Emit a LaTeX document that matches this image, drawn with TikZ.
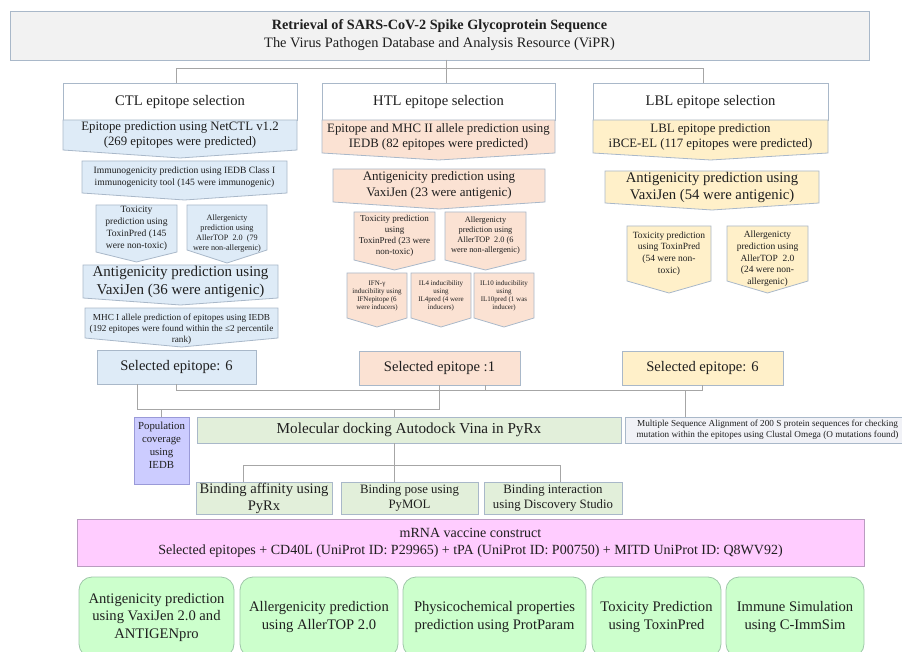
\documentclass[tikz,border=0pt]{standalone}
\usepackage{fontspec}
\setmainfont{Liberation Serif}
\definecolor{textc}{HTML}{1F1F1F}
\definecolor{bordc}{HTML}{A9B8C9}
\definecolor{linec}{HTML}{A6A6A6}
\definecolor{topfill}{HTML}{F2F2F2}
\definecolor{ctlfill}{HTML}{DEEBF7}
\definecolor{htlfill}{HTML}{FBE2D3}
\definecolor{lblfill}{HTML}{FFF0C9}
\definecolor{dockfill}{HTML}{E2EFDA}
\definecolor{popfill}{HTML}{CCCCFF}
\definecolor{popbord}{HTML}{9A9AD8}
\definecolor{msafill}{HTML}{F1F2F7}
\definecolor{mrnafill}{HTML}{FFCCFF}
\definecolor{mrnabord}{HTML}{B99CC0}
\definecolor{evalfill}{HTML}{CCFFCC}
\definecolor{evalbord}{HTML}{9FC7A9}
\tikzset{
  cell/.style={rectangle, draw=bordc, line width=0.8pt, inner sep=0pt, outer sep=0pt, align=center, text=textc},
  txt/.style={inner sep=0pt, align=center, text=textc},
  fs/.style 2 args={font=\fontsize{#1}{#2}\selectfont},
  sz/.style 2 args={minimum width=#1, minimum height=#2},
  conn/.style={draw=linec, line width=1pt},
  ctlc/.style={fill=ctlfill, draw=bordc, line width=0.8pt},
  htlc/.style={fill=htlfill, draw=bordc, line width=0.8pt},
  lblc/.style={fill=lblfill, draw=bordc, line width=0.8pt}
}
% style, name, x1, y1, x2, y2 (rectangle part), tip, text options, text
\newcommand\chev[9]{%
  \path[#1] (#3,#4) -- (#5,#4) -- (#5,#6) -- ({(#3+#5)/2},#7) -- (#3,#6) -- cycle;
  \node[txt,#8] (#2) at ({(#3+#5)/2},{(#4+#6)/2}) {#9};}
\begin{document}
\begin{tikzpicture}[x=1pt, y=-1pt]
\useasboundingbox (0,0) rectangle (902,652);
\clip (0,0) rectangle (902,652);
\node[cell, fill=topfill, sz={859}{49}, fs={14.4}{18}] (top) at (439.5,35.5)
  {\textbf{\fontsize{14.2}{18}\selectfont Retrieval of SARS-CoV-2 Spike Glycoprotein Sequence}\\The Virus Pathogen Database and Analysis Resource (ViPR)};
\node[cell, fill=white, sz={234}{37}, fs={14.6}{17}] (ctlh) at (180,101.5) {CTL epitope selection};
\node[cell, fill=white, sz={233}{37}, fs={14.6}{17}] (htlh) at (438.5,101.5) {HTL epitope selection};
\node[cell, fill=white, sz={235}{37}, fs={14.6}{17}] (lblh) at (710.5,101.5) {LBL epitope selection};

\chev{ctlc}{netctl}{63}{120}{297}{150}{158}{fs={12.8}{15}}{Epitope prediction using NetCTL v1.2\\(269 epitopes were predicted)}
\chev{ctlc}{immuno}{82}{161}{287}{193}{200}{fs={9.6}{11.7}}{Immunogenicity prediction using IEDB Class I\\immunogenicity tool (145 were immunogenic)}
\chev{ctlc}{ctltox}{96}{205}{177}{252}{262}{fs={9.6}{11.8}}{Toxicity\\prediction using\\ToxinPred (145\\were non-toxic)}
\chev{ctlc}{ctlall}{187}{205}{267}{250}{263}{fs={8.2}{9.8},yshift=-6pt}{Allergenicty\\prediction using\\AllerTOP\ \ 2.0\ \ (79\\were non-allergenic)}
\chev{ctlc}{ctlanti}{83}{265}{278}{298}{305}{fs={15}{18}}{Antigenicity prediction using\\VaxiJen (36 were antigenic)}
\chev{ctlc}{mhci}{85}{308}{278}{338}{347}{fs={9.2}{11},yshift=-6pt}{MHC I allele prediction of epitopes using IEDB\\(192 epitopes were found within the ≤2 percentile\\rank)}

\chev{htlc}{mhcii}{322}{120}{555}{153}{160}{fs={12.8}{15}}{Epitope and MHC II allele prediction using\\IEDB (82 epitopes were predicted)}
\chev{htlc}{htlanti}{333}{169}{545}{202}{209}{fs={13}{15.5}}{Antigenicity prediction using\\VaxiJen (23 were antigenic)}
\chev{htlc}{htltox}{354}{212}{435}{260}{270}{fs={9}{11}}{Toxicity prediction\\using\\ToxinPred (23 were\\non-toxic)}
\chev{htlc}{htlall}{445}{212}{526}{260}{270}{fs={8.3}{10}}{Allergenicty\\prediction using\\AllerTOP\ \ 2.0 (6\\were non-allergenic)}
\chev{htlc}{ifn}{347}{273}{407}{318}{327}{fs={7}{8}}{IFN-γ\\inducibility using\\IFNepitope (6\\were inducers)}
\chev{htlc}{ilfour}{411}{273}{471}{318}{327}{fs={7}{8}}{IL4 inducibility\\using\\IL4pred (4 were\\inducers)}
\chev{htlc}{ilten}{474}{273}{534}{318}{327}{fs={7}{8}}{IL10 inducibility\\using\\IL10pred (1 was\\inducer)}

\chev{lblc}{lblpred}{593}{120}{828}{153}{160}{fs={12.8}{15}}{LBL epitope prediction\\iBCE-EL (117 epitopes were predicted)}
\chev{lblc}{lblanti}{605}{171}{819}{203}{210}{fs={14.7}{17}}{Antigenicity prediction using\\VaxiJen (54 were antigenic)}
\chev{lblc}{lbltox}{627}{226}{711}{281}{293}{fs={9.5}{11.7}}{Toxicity prediction\\using ToxinPred\\(54 were non-\\toxic)}
\chev{lblc}{lblall}{727}{226}{808}{281}{293}{fs={9.5}{11.7},yshift=-5.5pt}{Allergenicty\\prediction using\\AllerTOP\ \ 2.0\\(24 were non-\\allergenic)}

\node[cell, fill=ctlfill, sz={159}{34}, fs={14.6}{17}] (ctlsel) at (176.5,367) {Selected epitope: 6};
\node[cell, fill=htlfill, sz={161}{34}, fs={14.6}{17}] (htlsel) at (439.5,368) {Selected epitope :1};
\node[cell, fill=lblfill, sz={161}{34}, fs={14.6}{17}] (lblsel) at (702.5,368) {Selected epitope: 6};

\node[cell, fill=popfill, draw=popbord, sz={55}{67}] (pop) at (161.5,450.5) {};
\node[txt, fs={10.8}{13}] (poptxt) at (161.5,445) {Population\\coverage\\using\\IEDB};
\node[cell, fill=dockfill, sz={424}{26}, fs={15.2}{18}] (mol) at (409,430) {Molecular docking Autodock Vina in PyRx};
\node[cell, fill=msafill, sz={285}{26}, fs={9.2}{10.5}] (msa) at (767.5,430) {Multiple Sequence Alignment of 200 S protein sequences for checking\\mutation within the epitopes using Clustal Omega (O mutations found)};
\node[cell, fill=dockfill, sz={136}{32}, fs={14.6}{17}] (bind1) at (264,498) {Binding affinity using\\PyRx};
\node[cell, fill=dockfill, sz={137}{32}, fs={12.8}{15}] (bind2) at (409.5,498) {Binding pose using\\PyMOL};
\node[cell, fill=dockfill, sz={138}{32}, fs={12.8}{15}] (bind3) at (553,498) {Binding interaction\\using Discovery Studio};
\node[cell, fill=mrnafill, draw=mrnabord, sz={787}{47}, fs={14}{17}] (mrna) at (470.5,542.5)
  {mRNA vaccine construct\\Selected epitopes + CD40L (UniProt ID: P29965) + tPA (UniProt ID: P00750) + MITD UniProt ID: Q8WV92)};

\node[cell, rounded corners=13pt, fill=evalfill, draw=evalbord, sz={155}{80}, fs={14.6}{17.5}] (antig) at (156.5,617) {Antigenicity prediction\\using VaxiJen 2.0 and\\ANTIGENpro};
\node[cell, rounded corners=13pt, fill=evalfill, draw=evalbord, sz={158}{80}, fs={14.6}{17.5}] (allerg) at (319,617) {Allergenicity prediction\\using AllerTOP 2.0};
\node[cell, rounded corners=13pt, fill=evalfill, draw=evalbord, sz={183}{80}, fs={14.6}{17.5}] (physchem) at (494.5,617) {Physicochemical properties\\prediction using ProtParam};
\node[cell, rounded corners=13pt, fill=evalfill, draw=evalbord, sz={129}{80}, fs={14.6}{17.5}] (toxic) at (656.5,617) {Toxicity Prediction\\using ToxinPred};
\node[cell, rounded corners=13pt, fill=evalfill, draw=evalbord, sz={138}{80}, fs={14.6}{17.5}] (immsim) at (795,617) {Immune Simulation\\using C-ImmSim};

\coordinate (split) at (446,69);
\draw[conn] (split |- top.south) -- (split);
\draw[conn] (split) -| ([xshift=-4pt]ctlh.north);
\draw[conn] (split) -- (split |- htlh.north);
\draw[conn] (split) -| ([xshift=-7pt]lblh.north);

\draw[conn] (ctlsel.south) -- ++(0,6) -| (lblsel.south);
\draw[conn] ([xshift=45.5pt]htlsel.south) -- ++(0,5);
\coordinate (msaup) at (685,390);
\draw[conn] (msaup) -- (msaup |- msa.north);
\draw[conn] ([xshift=-39.5pt]ctlsel.south) -- ++(0,25) -| (htlsel.south);
\coordinate (dock) at (394,409);
\draw[conn] (dock) -- (dock |- mol.north);
\draw[conn] (pop.north) -- ++(0,-8);

\coordinate (fork) at (394,465);
\draw[conn] (fork |- mol.south) -- (fork);
\draw[conn] (fork) -| ([xshift=-21pt]bind1.north);
\draw[conn] (fork) -- (fork |- bind2.north);
\draw[conn] (fork) -| ([xshift=7pt]bind3.north);
\end{tikzpicture}
\end{document}
